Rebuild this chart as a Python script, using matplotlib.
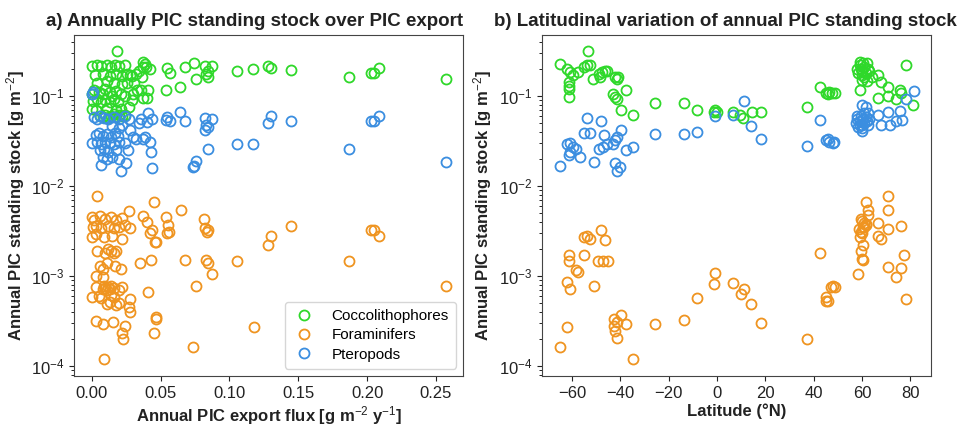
import matplotlib
matplotlib.use("Agg")
import matplotlib.pyplot as plt
from matplotlib import font_manager

# ---------------- data (panel a: flux vs stock) ----------------
cocco_a = [
    (0.0187, 0.313), (0.257, 0.155), (0.2088, 0.205), (0.203, 0.179), (0.205, 0.180),
    (0.1868, 0.164), (0.1444, 0.196), (0.128, 0.213), (0.130, 0.205), (0.1175, 0.200),
    (0.1054, 0.188), (0.0826, 0.212), (0.0877, 0.212), (0.0846, 0.191), (0.0833, 0.176),
    (0.0843, 0.163), (0.0744, 0.231), (0.0676, 0.208), (0.0761, 0.155), (0.0644, 0.125),
    (0.055, 0.205), (0.0567, 0.179), (0.0538, 0.115),
    (0.0375, 0.240), (0.0385, 0.225), (0.037, 0.210), (0.034, 0.190), (0.032, 0.175),
    (0.0365, 0.160), (0.0395, 0.210), (0.042, 0.200), (0.0355, 0.115), (0.041, 0.115),
    (0.0375, 0.095), (0.040, 0.095), (0.029, 0.090), (0.027, 0.075), (0.030, 0.105),
    (0.033, 0.115), (0.031, 0.140),
    (0.000, 0.215), (0.0035, 0.22), (0.007, 0.215), (0.011, 0.22), (0.014, 0.21),
    (0.017, 0.22), (0.020, 0.215), (0.024, 0.22), (0.028, 0.17),
    (0.0025, 0.17), (0.0085, 0.175), (0.013, 0.165), (0.018, 0.175), (0.022, 0.165),
    (0.0255, 0.175), (0.029, 0.165),
    (0.004, 0.14), (0.011, 0.145), (0.016, 0.14), (0.022, 0.135), (0.026, 0.14),
    (0.000, 0.105), (0.002, 0.115), (0.005, 0.11), (0.008, 0.105), (0.010, 0.118),
    (0.013, 0.11), (0.015, 0.1), (0.018, 0.112), (0.021, 0.105), (0.024, 0.1),
    (0.001, 0.088), (0.004, 0.092), (0.007, 0.085), (0.010, 0.09), (0.013, 0.086),
    (0.016, 0.092), (0.019, 0.085),
    (0.0005, 0.072), (0.003, 0.07), (0.011, 0.074), (0.018, 0.07), (0.021, 0.072),
    (0.006, 0.06), (0.008, 0.058), (0.010, 0.062), (0.012, 0.057), (0.014, 0.06),
    (0.016, 0.063), (0.018, 0.058), (0.020, 0.061), (0.022, 0.059), (0.024, 0.062),
]
ptero_a = [
    (0.257, 0.0185), (0.2088, 0.059), (0.203, 0.0526), (0.205, 0.0526), (0.1868, 0.0254),
    (0.1444, 0.0526), (0.130, 0.059), (0.128, 0.0505), (0.1175, 0.029), (0.1054, 0.029),
    (0.0846, 0.026), (0.0826, 0.057), (0.0877, 0.056), (0.0833, 0.048), (0.0826, 0.042),
    (0.0846, 0.045), (0.0761, 0.019), (0.0744, 0.0166), (0.0736, 0.0163), (0.0676, 0.0526),
    (0.0644, 0.066), (0.055, 0.058), (0.0567, 0.052), (0.0538, 0.054), (0.0216, 0.0147),
    (0.0441, 0.016), (0.0252, 0.018),
    (0.0375, 0.033), (0.0385, 0.035), (0.042, 0.031), (0.043, 0.024), (0.036, 0.055),
    (0.040, 0.051), (0.044, 0.055), (0.034, 0.05), (0.041, 0.065),
    (0.030, 0.035), (0.032, 0.033), (0.028, 0.042), (0.024, 0.03), (0.0265, 0.025), (0.020, 0.02),
    (0.000, 0.105), (0.001, 0.11),
    (0.002, 0.058), (0.004, 0.056), (0.006, 0.06), (0.009, 0.057), (0.012, 0.055),
    (0.016, 0.058), (0.020, 0.056), (0.024, 0.059), (0.027, 0.055),
    (0.015, 0.046), (0.020, 0.044), (0.022, 0.047),
    (0.003, 0.037), (0.005, 0.039), (0.008, 0.036), (0.011, 0.038), (0.014, 0.035),
    (0.017, 0.039), (0.019, 0.036),
    (0.000, 0.03), (0.004, 0.031), (0.007, 0.029), (0.010, 0.031), (0.013, 0.03),
    (0.016, 0.029), (0.020, 0.031),
    (0.006, 0.025), (0.009, 0.026), (0.012, 0.024), (0.018, 0.025),
    (0.008, 0.021), (0.011, 0.02), (0.015, 0.021), (0.007, 0.017),
]
foram_a = [
    (0.0039, 0.00773), (0.0453, 0.0066), (0.0271, 0.00527), (0.0647, 0.0054), (0.0538, 0.0045),
    (0.0816, 0.0043), (0.0826, 0.0034), (0.0836, 0.0031), (0.0846, 0.0032), (0.1444, 0.00354),
    (0.130, 0.0028), (0.128, 0.0022), (0.203, 0.00325), (0.205, 0.00325), (0.2088, 0.0028),
    (0.1868, 0.00145), (0.1054, 0.00148), (0.083, 0.00152), (0.0846, 0.0014), (0.0875, 0.00106),
    (0.0676, 0.0015), (0.0761, 0.00077), (0.257, 0.00077), (0.1177, 0.000273), (0.0736, 0.000164),
    (0.0089, 0.000118),
    (0.0555, 0.0037), (0.056, 0.0031), (0.0545, 0.0030), (0.046, 0.0024), (0.047, 0.0024),
    (0.044, 0.0032), (0.042, 0.0030), (0.040, 0.0040), (0.037, 0.0046), (0.043, 0.0015),
    (0.035, 0.0014), (0.041, 0.00066), (0.047, 0.00035), (0.047, 0.00033), (0.045, 0.00023),
    (0.028, 0.00055), (0.027, 0.00045), (0.0275, 0.0004),
    (0.000, 0.0045), (0.002, 0.0042), (0.006, 0.0046), (0.010, 0.0043), (0.014, 0.0045),
    (0.018, 0.0042), (0.022, 0.0044),
    (0.001, 0.0035), (0.003, 0.0036), (0.007, 0.0034), (0.012, 0.0036), (0.016, 0.0034),
    (0.020, 0.0035), (0.024, 0.0037), (0.028, 0.0034),
    (0.000, 0.0027), (0.003, 0.0029), (0.009, 0.0027), (0.015, 0.0028), (0.022, 0.0026),
    (0.004, 0.0019), (0.010, 0.0018), (0.012, 0.002), (0.014, 0.0019), (0.016, 0.0018),
    (0.018, 0.0019),
    (0.006, 0.0013), (0.008, 0.0012), (0.011, 0.0014), (0.017, 0.0013), (0.021, 0.0012),
    (0.003, 0.001), (0.008, 0.00098),
    (0.003, 0.00075), (0.008, 0.00072), (0.009, 0.00078), (0.010, 0.00074), (0.011, 0.0007),
    (0.012, 0.00076), (0.013, 0.00072), (0.014, 0.00078), (0.016, 0.00074), (0.020, 0.0007),
    (0.022, 0.00076),
    (0.000, 0.00058), (0.005, 0.0006), (0.007, 0.00057), (0.014, 0.00061), (0.016, 0.00058),
    (0.011, 0.00049), (0.013, 0.00051), (0.018, 0.00048), (0.020, 0.0005),
    (0.0034, 0.000315), (0.0084, 0.000293), (0.0157, 0.000305), (0.0241, 0.000276),
    (0.0217, 0.000234), (0.0228, 0.0002),
]

# ---------------- data (panel b: latitude vs stock) ----------------
cocco_b = [
    (-65.2, 0.227), (-62.2, 0.2), (-60.8, 0.184), (-59.5, 0.17), (-61.5, 0.142),
    (-61.3, 0.13), (-61.5, 0.12), (-61.3, 0.097), (-53.3, 0.313), (-57.4, 0.184),
    (-55.3, 0.21), (-53.9, 0.223), (-52.6, 0.218), (-51.4, 0.155), (-49.1, 0.175),
    (-48.4, 0.16), (-47.7, 0.184), (-46.4, 0.19), (-45.4, 0.188), (-42.2, 0.16),
    (-41.5, 0.155), (-40.9, 0.16), (-42.9, 0.104), (-42.2, 0.097), (-41.5, 0.093),
    (-37.7, 0.117), (-39.9, 0.0705), (-34.7, 0.061), (-25.7, 0.083), (-13.6, 0.083),
    (-8.5, 0.0705), (-0.9, 0.069), (-1.5, 0.066), (0.0, 0.066), (6.7, 0.066),
    (9.4, 0.061), (10.8, 0.057), (14.3, 0.066), (18.0, 0.066), (37.2, 0.076),
    (42.5, 0.125), (45.2, 0.107), (46.5, 0.11), (47.5, 0.108), (49.0, 0.107), (46.0, 0.104),
    (58.0, 0.2), (59.0, 0.22), (60.0, 0.19), (61.0, 0.21), (62.0, 0.23), (58.5, 0.18),
    (60.0, 0.17), (61.5, 0.18), (62.5, 0.2), (59.0, 0.24), (60.5, 0.23), (63.0, 0.19),
    (59.5, 0.2), (61.0, 0.16), (60.0, 0.15), (64.0, 0.16), (62.0, 0.145), (59.0, 0.115),
    (66.6, 0.17), (68.0, 0.142), (66.6, 0.094), (70.7, 0.125), (70.7, 0.1), (74.2, 0.093),
    (75.5, 0.117), (76.2, 0.107), (78.3, 0.218), (81.0, 0.079),
]
ptero_b = [
    (-65.2, 0.0166), (-62.0, 0.029), (-61.0, 0.03), (-59.8, 0.027), (-58.5, 0.026),
    (-61.5, 0.022), (-60.8, 0.024), (-56.8, 0.021), (-53.9, 0.057), (-55.3, 0.039),
    (-52.6, 0.039), (-48.0, 0.0526), (-46.8, 0.0365), (-45.5, 0.0295), (-47.4, 0.0267),
    (-48.9, 0.026), (-42.2, 0.0322), (-41.5, 0.035), (-39.9, 0.042), (-42.9, 0.029),
    (-50.9, 0.0185), (-42.2, 0.0178), (-41.5, 0.0148), (-40.3, 0.0163),
    (-37.7, 0.025), (-34.7, 0.0267), (-25.7, 0.038), (-13.6, 0.0375), (-8.5, 0.04),
    (-0.9, 0.059), (6.7, 0.061), (11.2, 0.088), (14.0, 0.046), (18.0, 0.0335),
    (37.2, 0.028), (42.5, 0.054), (45.2, 0.032), (46.5, 0.031), (47.8, 0.03),
    (46.0, 0.033), (48.5, 0.031),
    (57.5, 0.05), (58.0, 0.055), (58.5, 0.045), (59.0, 0.052), (59.5, 0.06), (60.0, 0.048),
    (60.5, 0.055), (61.0, 0.05), (61.5, 0.058), (62.0, 0.052), (62.5, 0.047), (63.0, 0.055),
    (60.0, 0.044), (59.0, 0.047), (58.0, 0.06), (61.0, 0.064), (60.0, 0.08), (61.5, 0.075),
    (62.5, 0.065), (60.0, 0.041),
    (66.6, 0.061), (68.0, 0.048), (70.7, 0.066), (71.6, 0.047), (75.5, 0.068), (76.6, 0.054),
    (78.3, 0.093), (81.3, 0.112), (74.0, 0.052),
]
foram_b = [
    (-65.2, 0.000164), (-62.2, 0.000273), (-61.5, 0.00172), (-61.5, 0.00145), (-58.5, 0.00115),
    (-57.4, 0.0011), (-62.0, 0.00085), (-60.8, 0.00072), (-55.3, 0.0017), (-53.9, 0.0028),
    (-52.7, 0.0026), (-55.0, 0.0027), (-48.0, 0.00325), (-46.4, 0.0025), (-49.5, 0.00145),
    (-47.4, 0.00148), (-45.3, 0.00145), (-50.9, 0.00078),
    (-42.5, 0.00033), (-41.5, 0.00031), (-42.2, 0.000244), (-41.5, 0.000206), (-39.9, 0.00037),
    (-37.7, 0.00029), (-42.6, 0.000277), (-34.7, 0.000118), (-25.7, 0.00029), (-13.6, 0.00032),
    (-8.5, 0.00057), (-1.2, 0.00081), (-0.9, 0.00109), (6.7, 0.00084), (9.7, 0.00063),
    (11.2, 0.00071), (14.0, 0.00049), (18.0, 0.0003), (37.2, 0.0002), (42.5, 0.0018),
    (45.2, 0.00059), (45.9, 0.00052), (47.3, 0.00076), (48.0, 0.00077), (48.7, 0.00076),
    (45.0, 0.00053),
    (61.8, 0.00668), (62.4, 0.0054), (62.6, 0.0048), (59.5, 0.0043), (60.0, 0.0041),
    (61.0, 0.0039), (61.5, 0.0037), (58.8, 0.0033), (59.5, 0.0031), (60.5, 0.0035),
    (61.8, 0.0038), (59.2, 0.0027), (60.2, 0.0022), (59.5, 0.0019), (60.5, 0.0015),
    (59.8, 0.00155), (58.3, 0.00105), (60.8, 0.0035), (60.0, 0.003),
    (66.6, 0.0039), (66.6, 0.0028), (68.0, 0.0026), (70.7, 0.0077), (70.7, 0.0054),
    (70.7, 0.0033), (70.7, 0.00126), (76.2, 0.0036), (77.2, 0.00172), (76.2, 0.00122),
    (74.0, 0.00098), (78.3, 0.00056),
]

series = [
    ("Coccolithophores", "#2fd82a", cocco_a, cocco_b),
    ("Foraminifers", "#ef9420", foram_a, foram_b),
    ("Pteropods", "#3b8ee0", ptero_a, ptero_b),
]

# ---------------- style ----------------
names = {f.name for f in font_manager.fontManager.ttflist}
fam = [f for f in ["Liberation Sans Narrow", "Liberation Sans", "DejaVu Sans"] if f in names]
plt.rcParams["font.family"] = fam
plt.rcParams["mathtext.fontset"] = "custom"
plt.rcParams["mathtext.rm"] = fam[0]
plt.rcParams["mathtext.it"] = fam[0]
plt.rcParams["mathtext.bf"] = fam[0] + ":bold"
text_c = "#222222"

fig = plt.figure(figsize=(9.66, 4.26), dpi=100)
ax1 = fig.add_axes([0.0766, 0.117, 0.403, 0.800])
ax2 = fig.add_axes([0.561, 0.117, 0.403, 0.800])

for label, color, da, db in series:
    ax1.plot([p[0] for p in da], [p[1] for p in da], linestyle="none", marker="o",
             markersize=7.2, markerfacecolor="none", markeredgecolor=color,
             markeredgewidth=1.3, label=label)
    ax2.plot([p[0] for p in db], [p[1] for p in db], linestyle="none", marker="o",
             markersize=7.2, markerfacecolor="none", markeredgecolor=color,
             markeredgewidth=1.3)

for ax in (ax1, ax2):
    ax.set_yscale("log")
    ax.set_ylim(7.7e-5, 0.47)
    ax.tick_params(labelsize=12, colors=text_c, direction="out")
    for s in ax.spines.values():
        s.set_color("#444444")
    ax.set_ylabel("Annual PIC standing stock [g m$^{-2}$]", fontsize=12,
                  fontweight="bold", color=text_c, labelpad=3)

ax1.set_xticks([0.0, 0.05, 0.10, 0.15, 0.20, 0.25])
ax1.set_xticklabels(["0.00", "0.05", "0.10", "0.15", "0.20", "0.25"])
ax1.set_xlabel("Annual PIC export flux [g m$^{-2}$ y$^{-1}$]", fontsize=12,
               fontweight="bold", color=text_c, labelpad=2)
ax2.set_xticks([-60, -40, -20, 0, 20, 40, 60, 80])
ax2.set_xlabel("Latitude (°N)", fontsize=12, fontweight="bold", color=text_c, labelpad=2)

ax1.set_title("a) Annually PIC standing stock over PIC export", fontsize=13.5,
              fontweight="bold", color=text_c, pad=7, x=0.465)
ax2.set_title("b) Latitudinal variation of annual PIC standing stock", fontsize=13.5,
              fontweight="bold", color=text_c, pad=7, x=0.47)

leg = ax1.legend(loc="lower right", fontsize=11, frameon=True, borderpad=0.45,
                 handletextpad=1.0, labelspacing=0.35, borderaxespad=0.5,
                 handlelength=1.6)
leg.get_frame().set_edgecolor("#cccccc")

fig.savefig("out.png", dpi=100)
